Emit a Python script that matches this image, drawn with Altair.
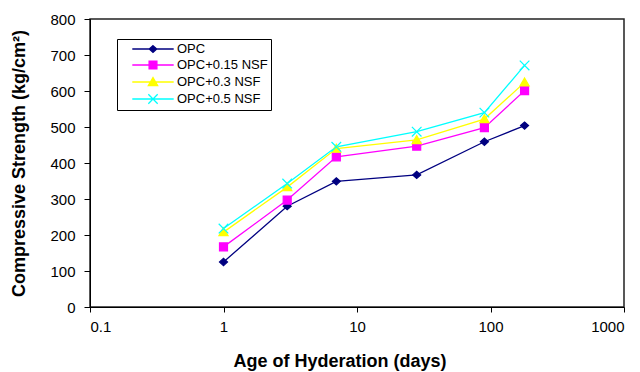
import altair as alt
import pandas as pd

days = [1, 3, 7, 28, 90, 180]
series = ["OPC", "OPC+0.15 NSF", "OPC+0.3 NSF", "OPC+0.5 NSF"]
opc = [125, 280, 349, 367, 459, 504]
opc_015 = [167, 297, 417, 447, 498, 601]
opc_03 = [208, 333, 440, 464, 522, 624]
opc_05 = [218, 343, 445, 487, 540, 671]
colors = ["#000080", "#FF00FF", "#FFFF00", "#00FFFF"]

x_ticks = [0.1, 1, 10, 100, 1000]
y_ticks = [0, 100, 200, 300, 400, 500, 600, 700, 800]

rows = []
for name, vals in zip(series, [opc, opc_015, opc_03, opc_05]):
    for d, v in zip(days, vals):
        rows.append({"day": d, "value": v, "series": name})
df = pd.DataFrame(rows)

marker_paths = [
    "M-1,0L0,-0.9L1,0L0,0.9Z",
    "M-1,-1H1V1H-1Z",
    "M0,-1.1L1.15,0.9L-1.15,0.9Z",
    "M-1.2,-1.2L1.2,1.2M-1.2,1.2L1.2,-1.2",
]
legend_paths = [
    "M-3.45,0H3.45M0,-0.55L0.62,0L0,0.55L-0.62,0Z",
    "M-3.45,0H3.45M-0.65,-0.65H0.65V0.65H-0.65Z",
    "M-3.45,0H3.45M0,-0.75L0.78,0.6L-0.78,0.6Z",
    "M-3.45,0H3.45M-0.78,-0.78L0.78,0.78M-0.78,0.78L0.78,-0.78",
]

FONT = "Liberation Sans"

X = alt.X(
    "day:Q",
    scale=alt.Scale(type="log", domain=[0.1, 1000], nice=False),
    axis=alt.Axis(
        values=x_ticks, format="~g", title="Age of Hyderation (days)",
        grid=False, tickSize=5, labelPadding=7, labelFontSize=15,
        titleFontSize=18, titleX=249.5, titleY=59, titleBaseline="alphabetic",
        titleAlign="center",
    ),
)
Y = alt.Y(
    "value:Q",
    scale=alt.Scale(domain=[0, 800], nice=False),
    axis=alt.Axis(
        values=y_ticks, title="Compressive Strength (kg/cm²)",
        grid=False, tickSize=6, labelPadding=9, labelFontSize=15,
        titleFontSize=18, titleX=-70.5, titleY=144, titleAngle=270,
        titleBaseline="middle", titleAlign="center",
    ),
)

base = alt.Chart(df)

lines = base.mark_line(strokeWidth=1.3).encode(
    x=X, y=Y,
    color=alt.Color("series:N", scale=alt.Scale(domain=series, range=colors), legend=None),
)

points = base.mark_point(filled=True, opacity=1, size=64, strokeWidth=1.2).encode(
    x=X, y=Y,
    shape=alt.Shape("series:N", scale=alt.Scale(domain=series, range=marker_paths), legend=None),
    fill=alt.Fill("series:N", scale=alt.Scale(domain=series, range=colors), legend=None),
    stroke=alt.Stroke("series:N", scale=alt.Scale(domain=series, range=colors), legend=None),
)

leg = alt.Legend(
    title=None, orient="none", legendX=27, legendY=20, padding=3,
    rowPadding=2, symbolSize=144, symbolOffset=26, labelOffset=17,
    labelFont=FONT, labelFontSize=13, labelColor="black",
    strokeColor="black", fillColor="white", symbolStrokeWidth=1.3,
    symbolOpacity=1, labelExpr="datum.label + '           '",
)

legend_layer = base.mark_point(filled=True, opacity=0, size=64, strokeWidth=1.3).encode(
    x=X, y=Y,
    shape=alt.Shape("series:N", scale=alt.Scale(domain=series, range=legend_paths), legend=leg),
    fill=alt.Fill("series:N", scale=alt.Scale(domain=series, range=colors), legend=leg),
    stroke=alt.Stroke("series:N", scale=alt.Scale(domain=series, range=colors), legend=leg),
)

chart = (
    alt.layer(lines, points, legend_layer)
    .resolve_scale(shape="independent", fill="independent", stroke="independent")
    .properties(
        width=534, height=288,
        autosize=alt.AutoSizeParams(type="none"),
        padding={"left": 90, "top": 19, "right": 16, "bottom": 65},
        background="white",
    )
    .configure_view(stroke="#222222", strokeWidth=1.5)
    .configure_axis(
        labelFont=FONT, titleFont=FONT, labelColor="black", titleColor="black",
        domainColor="black", tickColor="black", domainWidth=1, tickWidth=1,
        titleFontWeight="bold",
    )
)

chart.save("out.html", embed_options={"renderer": "svg", "actions": False})
